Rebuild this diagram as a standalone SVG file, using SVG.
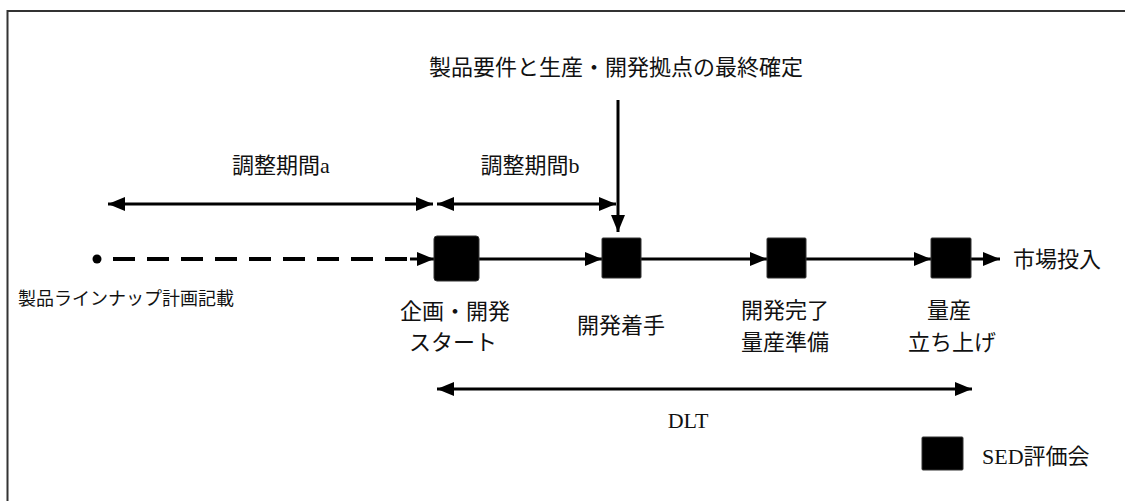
<svg xmlns="http://www.w3.org/2000/svg" width="1125" height="501" viewBox="0 0 1125 501">
<style>
text{font-family:'Liberation Serif','Noto Sans CJK JP',serif;fill:#111;font-size:22px}
.c{text-anchor:middle}
.ln{stroke:#000;stroke-width:3;fill:none}
.box{fill:#000;stroke:#333;stroke-width:1}
</style>
<defs>
<marker id="ah" markerUnits="userSpaceOnUse" markerWidth="18" markerHeight="14" refX="17" refY="7" orient="auto-start-reverse"><path d="M0,0 L17,7 L0,14 z" fill="#000"/></marker>
</defs>
<rect x="7.5" y="11" width="1130" height="500" fill="#fff" stroke="#333" stroke-width="2"/>
<g id="connectors">
<line class="ln" x1="108" y1="204" x2="433" y2="204" marker-start="url(#ah)" marker-end="url(#ah)"/>
<line class="ln" x1="437" y1="204" x2="616" y2="204" marker-start="url(#ah)" marker-end="url(#ah)"/>
<line class="ln" x1="618" y1="100" x2="618" y2="232" marker-end="url(#ah)"/>
<line x1="113" y1="259" x2="418" y2="259" stroke="#000" stroke-width="4" stroke-dasharray="22 12"/>
<line class="ln" x1="410" y1="259" x2="434" y2="259" marker-end="url(#ah)"/>
<line class="ln" x1="479" y1="259" x2="602" y2="259" marker-end="url(#ah)"/>
<line class="ln" x1="641" y1="259" x2="767" y2="259" marker-end="url(#ah)"/>
<line class="ln" x1="806" y1="259" x2="931" y2="259" marker-end="url(#ah)"/>
<line class="ln" x1="971" y1="259" x2="1000" y2="259" marker-end="url(#ah)"/>
<line class="ln" x1="437" y1="389" x2="972" y2="389" marker-start="url(#ah)" marker-end="url(#ah)"/>
</g>
<g id="title"><text class="c" x="616" y="75">製品要件と生産・開発拠点の最終確定</text></g>
<g id="period-a"><text class="c" x="281" y="173">調整期間a</text></g>
<g id="period-b"><text class="c" x="530" y="173">調整期間b</text></g>
<g id="start-point"><circle cx="97" cy="259" r="4.5" fill="#000"/><text x="18" y="305" style="font-size:18px">製品ラインナップ計画記載</text></g>
<g id="node1"><rect class="box" x="434" y="236" width="45" height="45" rx="3"/><text class="c" x="455" y="319">企画・開発</text><text class="c" x="453" y="350">スタート</text></g>
<g id="node2"><rect class="box" x="602" y="238" width="39" height="40" rx="1"/><text class="c" x="621" y="333">開発着手</text></g>
<g id="node3"><rect class="box" x="767" y="238" width="39" height="40" rx="1"/><text class="c" x="785" y="318">開発完了</text><text class="c" x="785" y="350">量産準備</text></g>
<g id="node4"><rect class="box" x="931" y="238" width="40" height="40" rx="1"/><text class="c" x="949" y="318">量産</text><text class="c" x="952" y="350">立ち上げ</text></g>
<g id="market"><text x="1013" y="267">市場投入</text></g>
<g id="dlt"><text class="c" x="688" y="428">DLT</text></g>
<g id="legend"><rect class="box" x="922" y="437" width="41" height="33" rx="1"/><text x="982" y="464">SED評価会</text></g>
</svg>
